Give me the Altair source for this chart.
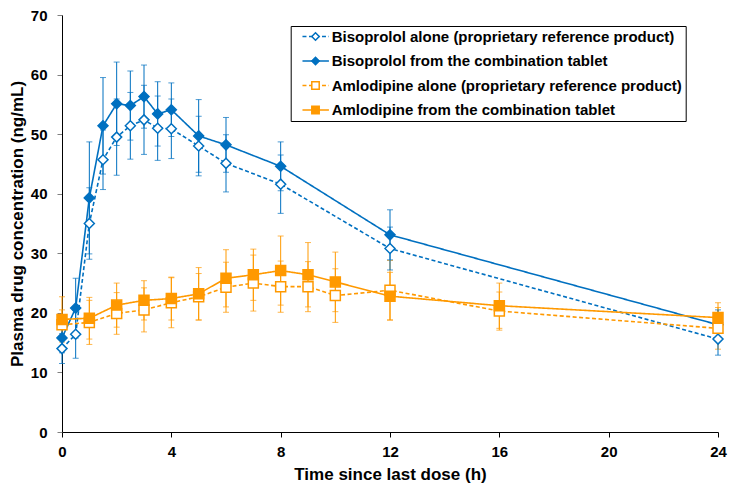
import altair as alt
import pandas as pd

# ---- data ----
series_names = [
    "Bisoprolol alone (proprietary reference product)",
    "Bisoprolol from the combination tablet",
    "Amlodipine alone (proprietary reference product)",
    "Amlodipine from the combination tablet",
]
marker_keys = ["m1", "m2", "m3", "m4"]

t_bis = [0, 0.5, 1, 1.5, 2, 2.5, 3, 3.5, 4, 5, 6, 8, 12, 24]
bis_alone = [14.0, 16.4, 35.0, 45.7, 49.5, 51.4, 52.4, 51.0, 50.9, 48.0, 45.1, 41.6, 30.8, 15.6]
bis_alone_sd = [2.5, 4.0, 6.0, 5.0, 6.4, 5.6, 5.8, 5.4, 5.0, 5.0, 4.8, 4.9, 3.6, 2.7]
bis_combo = [15.8, 20.8, 39.3, 51.4, 55.1, 54.8, 56.3, 53.4, 54.1, 49.7, 48.2, 44.6, 33.1, 18.0]
bis_combo_sd = [2.5, 5.0, 9.4, 8.1, 7.0, 5.8, 5.3, 5.4, 4.5, 6.1, 4.6, 4.1, 4.2, 2.5]

t_aml = [0, 1, 2, 3, 4, 5, 6, 7, 8, 9, 10, 12, 16, 24]
aml_alone = [18.0, 18.4, 19.9, 20.5, 21.7, 22.7, 24.3, 25.0, 24.4, 24.4, 22.9, 23.8, 20.3, 17.4]
aml_alone_sd = [2.5, 3.7, 3.5, 3.7, 4.2, 3.9, 4.2, 4.7, 4.3, 4.2, 4.5, 5.0, 3.2, 3.5]
aml_combo = [18.9, 19.1, 21.3, 22.1, 22.4, 23.2, 25.8, 26.4, 27.1, 26.4, 25.2, 22.8, 21.2, 19.2]
aml_combo_sd = [3.8, 3.5, 3.7, 3.3, 3.6, 4.4, 4.8, 4.3, 5.8, 5.4, 5.0, 4.0, 3.8, 2.5]

x_ticks = [0, 4, 8, 12, 16, 20, 24]
y_ticks = [0, 10, 20, 30, 40, 50, 60, 70]

BLUE = "#0070C0"
ORANGE = "#FF9900"

rows = []
for name, key, drug, ts, means, sds in [
    (series_names[0], marker_keys[0], "Bisoprolol", t_bis, bis_alone, bis_alone_sd),
    (series_names[1], marker_keys[1], "Bisoprolol", t_bis, bis_combo, bis_combo_sd),
    (series_names[2], marker_keys[2], "Amlodipine", t_aml, aml_alone, aml_alone_sd),
    (series_names[3], marker_keys[3], "Amlodipine", t_aml, aml_combo, aml_combo_sd),
]:
    for t, m, s in zip(ts, means, sds):
        rows.append({"series": name, "mkey": key, "drug": drug, "t": t, "mean": m, "sd": s})
df = pd.DataFrame(rows)

colors = [BLUE, BLUE, ORANGE, ORANGE]
dashes = [[4, 2.5], [1, 0], [4, 2.5], [1, 0]]
shapes = ["diamond", "diamond", "square", "square"]
fills = ["white", BLUE, "white", ORANGE]

xscale = alt.Scale(domain=[0, 24], nice=False, padding=0)
yscale = alt.Scale(domain=[0, 70], nice=False, padding=0)
xaxis = alt.Axis(values=x_ticks, title="Time since last dose (h)", titlePadding=7,
                 labelPadding=7, labelFlush=False)
yaxis = alt.Axis(values=y_ticks, title="Plasma drug concentration (ng/mL)", titlePadding=4,
                 labelPadding=10, labelFlush=False)

X = alt.X("t:Q", scale=xscale, axis=xaxis)

base = alt.Chart(df).transform_calculate(
    lo="datum.mean - datum.sd", hi="datum.mean + datum.sd"
)

err_layers = []
for drug, col in [("Amlodipine", ORANGE), ("Bisoprolol", BLUE)]:
    b = base.transform_filter(alt.datum.drug == drug)
    err_layers.append(
        b.mark_rule(strokeWidth=1).encode(
            x=X, y=alt.Y("lo:Q", scale=yscale, axis=yaxis), y2="hi:Q", color=alt.value(col)
        )
    )
    for f in ["lo", "hi"]:
        err_layers.append(
            b.mark_tick(orient="horizontal", size=6, thickness=1).encode(
                x=X, y=alt.Y(f + ":Q", scale=yscale, axis=yaxis), color=alt.value(col)
            )
        )

leg_common = dict(
    orient="none",
    title=None,
    labelFont="Liberation Sans",
    labelFontSize=15,
    labelFontWeight="bold",
    labelColor="black",
    labelLimit=800,
    rowPadding=8.5,
    clipHeight=15,
    padding=3,
)

leg_line = alt.Legend(
    legendX=228.7, legendY=11,
    symbolType="stroke", symbolSize=700, symbolStrokeWidth=1.5, symbolOffset=8,
    strokeColor="black", fillColor="white", labelOffset=2,
    labelExpr="datum.label + '       '",
    **leg_common,
)
leg_pt = alt.Legend(
    legendX=243, legendY=11,
    symbolSize=55, symbolStrokeWidth=1.5, labelOffset=2, labelExpr="''",
    **leg_common,
)

lines = base.mark_line(strokeWidth=1.6).encode(
    x=X,
    y=alt.Y("mean:Q", scale=yscale, axis=yaxis),
    color=alt.Color("series:N", scale=alt.Scale(domain=series_names, range=colors), legend=leg_line),
    strokeDash=alt.StrokeDash("series:N", scale=alt.Scale(domain=series_names, range=dashes), legend=leg_line),
    detail="series:N",
)

points = base.mark_point(size=100, strokeWidth=1.5, opacity=1, fillOpacity=1).encode(
    x=X,
    y=alt.Y("mean:Q", scale=yscale, axis=yaxis),
    shape=alt.Shape("mkey:N", scale=alt.Scale(domain=marker_keys, range=shapes), legend=leg_pt),
    fill=alt.Fill("mkey:N", scale=alt.Scale(domain=marker_keys, range=fills), legend=leg_pt),
    stroke=alt.Stroke("mkey:N", scale=alt.Scale(domain=marker_keys, range=colors), legend=leg_pt),
)

chart = (
    alt.layer(*err_layers, lines, points)
    .properties(
        width=656,
        height=417,
        autosize=alt.AutoSizeParams(type="none"),
        padding={"left": 62, "top": 15, "right": 14, "bottom": 54},
    )
    .configure_view(stroke=None)
    .configure_axis(
        grid=False,
        labelFont="Liberation Sans",
        labelFontSize=15,
        labelFontWeight="bold",
        labelColor="black",
        titleFont="Liberation Sans",
        titleFontSize=17,
        titleFontWeight="bold",
        titleColor="black",
        domainColor="black",
        domainWidth=1,
        tickSize=5,
    )
    .configure_axisX(tickColor="black")
    .configure_axisY(tickColor="#808080")
)

chart.save("out.html", embed_options={"renderer": "svg", "actions": False})
